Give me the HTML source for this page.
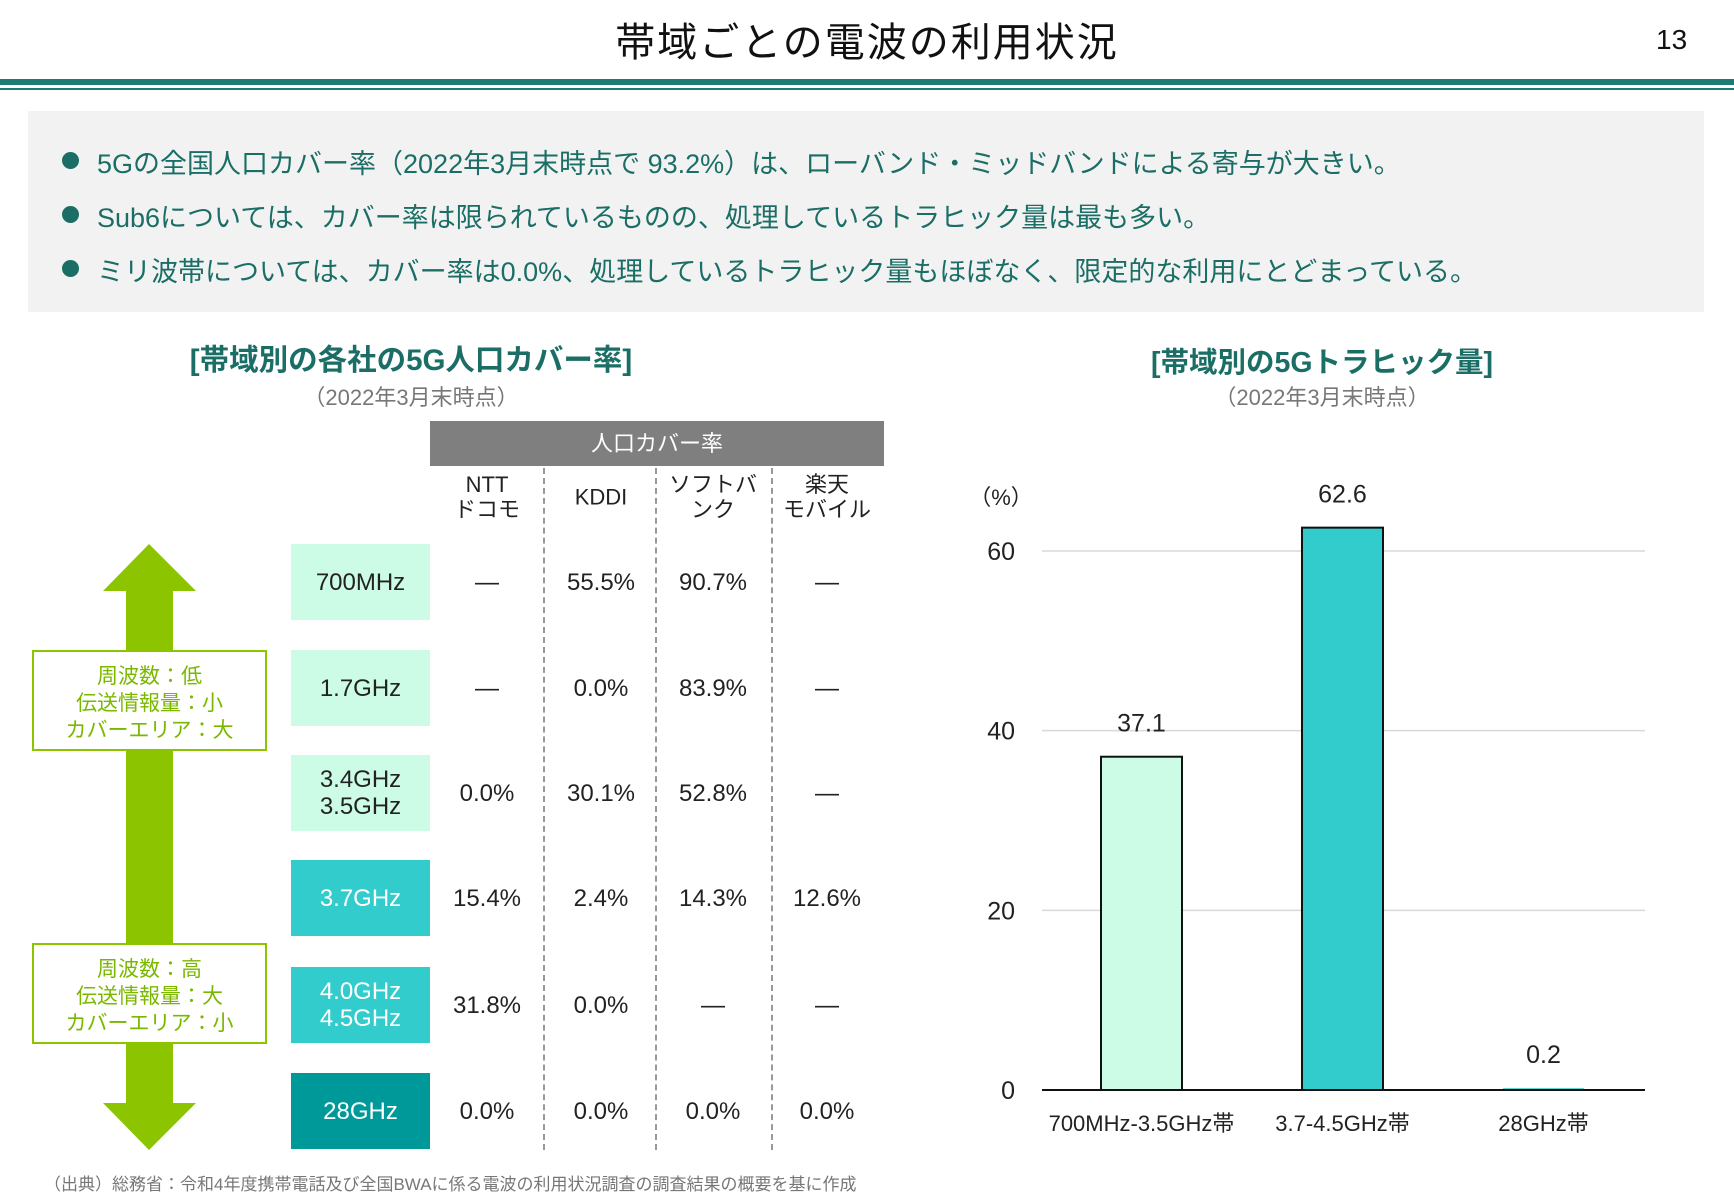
<!DOCTYPE html>
<html><head><meta charset="utf-8"><style>
body{margin:0;width:1734px;height:1200px;background:#fff;position:relative;overflow:hidden;font-family:"Liberation Sans","Noto Sans CJK JP",sans-serif}
.a{position:absolute;white-space:nowrap}
.c{transform:translateX(-50%)}
.m{transform:translate(-50%,-50%);text-align:center}
</style></head><body>
<div class="a c" style="left:867px;top:10px;font-size:40px;color:#111;letter-spacing:2px">帯域ごとの電波の利用状況</div>
<div class="a" style="left:1656px;top:24px;font-size:28px;color:#111">13</div>
<div class="a" style="left:0;top:79px;width:1734px;height:6px;background:#1e7b73"></div>
<div class="a" style="left:0;top:88px;width:1734px;height:2px;background:#1e7b73"></div>
<div class="a" style="left:28px;top:111px;width:1676px;height:201px;background:#f2f2f2"></div>
<div>
<div class="a" style="left:62px;top:152px;width:17px;height:17px;border-radius:50%;background:#1a6e66"></div>
<div class="a" style="left:97px;top:142px;font-size:27px;color:#1a6e66">5Gの全国人口カバー率（2022年3月末時点で 93.2%）は、ローバンド・ミッドバンドによる寄与が大きい。</div>
<div class="a" style="left:62px;top:206px;width:17px;height:17px;border-radius:50%;background:#1a6e66"></div>
<div class="a" style="left:97px;top:196px;font-size:27px;color:#1a6e66">Sub6については、カバー率は限られているものの、処理しているトラヒック量は最も多い。</div>
<div class="a" style="left:62px;top:260px;width:17px;height:17px;border-radius:50%;background:#1a6e66"></div>
<div class="a" style="left:97px;top:250px;font-size:27px;color:#1a6e66">ミリ波帯については、カバー率は0.0%、処理しているトラヒック量もほぼなく、限定的な利用にとどまっている。</div>
</div>
<div class="a c" style="left:411px;top:337px;font-size:29.5px;font-weight:bold;color:#1a6e66">[帯域別の各社の5G人口カバー率]</div>
<div class="a c" style="left:411px;top:380px;font-size:22px;color:#777">（2022年3月末時点）</div>
<div class="a c" style="left:1322px;top:340px;font-size:28.5px;font-weight:bold;color:#1a6e66">[帯域別の5Gトラヒック量]</div>
<div class="a c" style="left:1322px;top:380px;font-size:22px;color:#777">（2022年3月末時点）</div>

<div class="a" style="left:430px;top:421px;width:454px;height:45px;background:#7f7f7f;color:#fff;font-size:22px;text-align:center;line-height:45px">人口カバー率</div>
<div id="tbl"></div>

<svg class="a" style="left:0;top:0" width="1734" height="1200">
<polygon points="149,544 196,591 173,591 173,1103 196,1103 149,1150 103,1103 126,1103 126,591 103,591" fill="#8dc400"/>
</svg>
<div class="a" style="left:32px;top:650px;width:235px;height:101px;border:2px solid #8dc400;background:#fff;color:#7ab800;font-size:21px;text-align:center;line-height:27px;padding-top:11px;box-sizing:border-box">周波数：低<br>伝送情報量：小<br>カバーエリア：大</div>
<div class="a" style="left:32px;top:943px;width:235px;height:101px;border:2px solid #8dc400;background:#fff;color:#7ab800;font-size:21px;text-align:center;line-height:27px;padding-top:11px;box-sizing:border-box">周波数：高<br>伝送情報量：大<br>カバーエリア：小</div>

<div class="a" style="left:44px;top:1170px;font-size:17px;color:#777">（出典）総務省：令和4年度携帯電話及び全国BWAに係る電波の利用状況調査の調査結果の概要を基に作成</div>

<svg id="chart" class="a" style="left:0;top:0" width="1734" height="1200"></svg>

<script>
const bands=["700MHz","1.7GHz","3.4GHz<br>3.5GHz","3.7GHz","4.0GHz<br>4.5GHz","28GHz"];
const carriers=["NTT<br>ドコモ","KDDI","ソフトバ<br>ンク","楽天<br>モバイル"];
const coverage=[["—","55.5%","90.7%","—"],["—","0.0%","83.9%","—"],["0.0%","30.1%","52.8%","—"],["15.4%","2.4%","14.3%","12.6%"],["31.8%","0.0%","—","—"],["0.0%","0.0%","0.0%","0.0%"]];
const rowBg=["#ccfbe6","#ccfbe6","#ccfbe6","#33cccc","#33cccc","#009999"];
const tbl=document.getElementById('tbl');
const colX=[487,601,713,827], rowTop=[544,650,755,860,967,1073];
carriers.forEach((c,i)=>{const d=document.createElement('div');d.className='a m';d.style.cssText=`left:${colX[i]}px;top:497px;font-size:22px;line-height:25px;color:#222`;d.innerHTML=c;


tbl.appendChild(d);});
[543,655,771].forEach(x=>{const d=document.createElement('div');d.className='a';d.style.cssText=`left:${x}px;top:468px;height:682px;border-left:2px dashed #999`;


tbl.appendChild(d);});
bands.forEach((b,r)=>{const d=document.createElement('div');d.className='a';
d.style.cssText=`left:291px;top:${rowTop[r]}px;width:139px;height:76px;background:${rowBg[r]};display:flex;align-items:center;justify-content:center;text-align:center;font-size:24px;line-height:27px;color:${r>=3?'#fff':'#222'}`;d.innerHTML=b;


tbl.appendChild(d);
coverage[r].forEach((v,i)=>{const e=document.createElement('div');e.className='a m';e.style.cssText=`left:${colX[i]}px;top:${rowTop[r]+39}px;font-size:24px;color:#222`;e.textContent=v;


tbl.appendChild(e);});});

const categories=["700MHz-3.5GHz帯","3.7-4.5GHz帯","28GHz帯"];
const traffic=[37.1,62.6,0.2];
const ticks=[0,20,40,60];
const barColors=["#ccfbe6","#33cccc","#33cccc"];
const svg=document.getElementById('chart'),NS='http://www.w3.org/2000/svg';
const y0=1090,pxPer=(1090-551)/60,xL=1042,xR=1645,catW=(xR-xL)/3,bw=81;
const Y=v=>y0-v*pxPer, X=i=>xL+catW*(i+0.5)-1;
function mk(t,a,txt){const e=document.createElementNS(NS,t);for(const k in a)e.setAttribute(k,a[k]);if(txt!=null)e.textContent=txt;svg.appendChild(e);return e;}
ticks.forEach(t=>{if(t>0){const g=mk('line',{x1:xL,x2:xR,y1:Y(t),y2:Y(t),stroke:'#d9d9d9','stroke-width':1.5});

}
const l=mk('text',{x:1015,y:Y(t)+9,'text-anchor':'end','font-size':25,fill:'#222','font-family':'Liberation Sans'},t);

});
const u=mk('text',{x:1001,y:505,'text-anchor':'middle','font-size':22,fill:'#222','font-family':'Liberation Sans, Noto Sans CJK JP'},'（%）');


traffic.forEach((v,i)=>{const r=mk('rect',{x:X(i)-bw/2,y:Y(v),width:bw,height:y0-Y(v),fill:barColors[i],stroke:'#111','stroke-width':v>1?2:0});


const t=mk('text',{x:X(i),y:Y(v)-25,'text-anchor':'middle','font-size':25,fill:'#222','font-family':'Liberation Sans'},v.toFixed(1));


const c=mk('text',{x:X(i),y:1131,'text-anchor':'middle','font-size':22,fill:'#222','font-family':'Liberation Sans, Noto Sans CJK JP'},categories[i]);

});
const ax=mk('line',{x1:xL,x2:xR,y1:y0,y2:y0,stroke:'#111','stroke-width':2});


</script>
</body></html>
